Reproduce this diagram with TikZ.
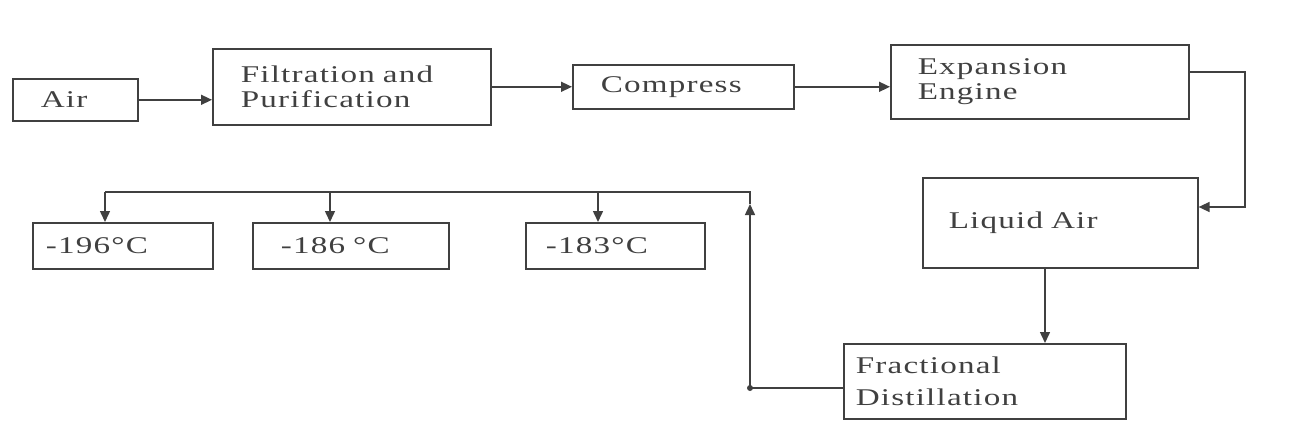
\documentclass[tikz,border=0pt]{standalone}
\usepackage{fontspec}
\setmainfont{Liberation Serif}[FakeStretch=1.38,LetterSpace=5]
\usetikzlibrary{arrows.meta}
\definecolor{ink}{gray}{0.25}
\begin{document}
\begin{tikzpicture}[x=1pt,y=-1pt,
  box/.style={draw=ink, line width=1.6pt, rectangle, anchor=north west, align=left,
    inner ysep=0pt, text=ink, font=\fontsize{24}{25}\selectfont},
  link/.style={draw=ink, line width=1.5pt},
  arr/.style={link, -{Triangle[length=11pt,width=10pt]}}]
\useasboundingbox (0,0) rectangle (1294,439);
% boxes
\node[box, inner xsep=28pt, text width=69pt,  minimum height=42pt] (air)  at (12,78)   {Air};
\node[box, inner xsep=28pt, text width=222pt, minimum height=76pt] (filt) at (212,48)  {Filtration and\\Purification};
\node[box, inner xsep=28pt, text width=165pt, minimum height=44pt] (comp) at (572,64)  {Compress};
\node[box, inner xsep=27pt, text width=244pt, minimum height=74pt] (exp)  at (890,44)  {Expansion\\Engine};
\node[box, inner xsep=26pt, text width=223pt, minimum height=90pt] (liq)  at (922,177) {Liquid Air};
\node[box, inner xsep=12pt, text width=258pt, minimum height=75pt, font=\fontsize{24}{32}\selectfont] (frac) at (843,343) {Fractional\\Distillation};
\node[box, inner xsep=13pt, text width=154pt, minimum height=46pt] (t196) at (32,222)  {-196°C};
\node[box, inner xsep=28pt, text width=140pt, minimum height=46pt] (t186) at (252,222) {-186 °C};
\node[box, inner xsep=20pt, text width=139pt, minimum height=46pt] (t183) at (525,222) {-183°C};
% helper coordinates
\coordinate (c1) at (1245,72);
\coordinate (c2) at (1245,207);
\coordinate (d)  at (1045,300);
\coordinate (e1) at (750,388);
\coordinate (e3) at (750,204);
\coordinate (e2) at (750,192);
\coordinate (f1) at (105,192);
\coordinate (f2) at (330,192);
\coordinate (f3) at (598,192);
% connectors
\draw[arr] (air.east) -- (air.east -| filt.west);
\draw[arr] (filt.east |- comp.west) -- (comp.west);
\draw[arr] (comp.east) -- (comp.east -| exp.west);
\draw[arr] (exp.east |- c1) -- (c1) -- (c2) -- (c2 -| liq.east);
\draw[arr] (liq.south -| d) -- (frac.north -| d);
\draw[arr] (frac.west |- e1) -- (e1) -- (e3);
\draw[link] (e3) -- (e2) -- (f1);
\fill[ink] (e1) circle (3pt);
\draw[arr] (f1) -- (f1 |- t196.north);
\draw[arr] (f2) -- (f2 |- t186.north);
\draw[arr] (f3) -- (f3 |- t183.north);
\end{tikzpicture}
\end{document}
